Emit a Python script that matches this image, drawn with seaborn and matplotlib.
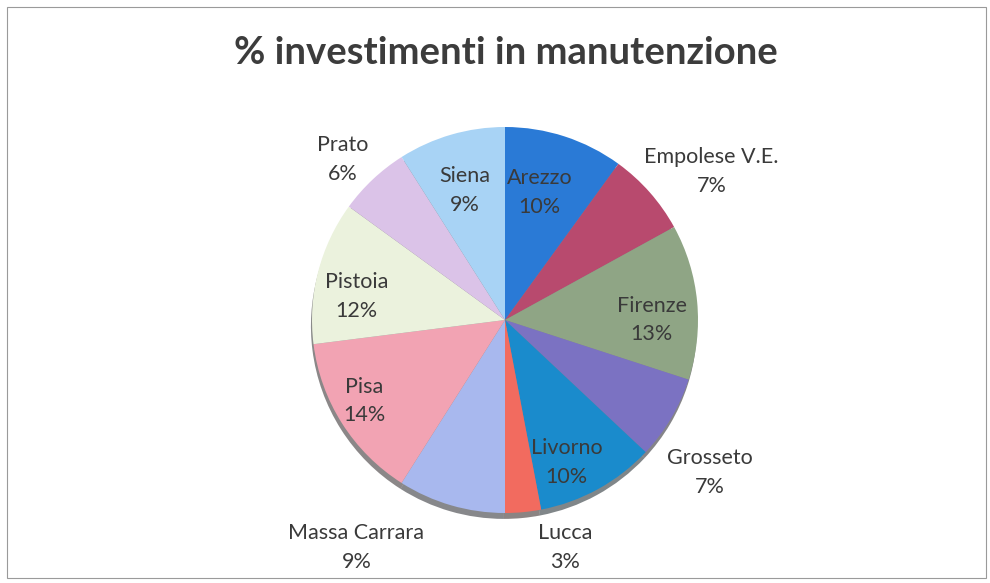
import seaborn as sns
import matplotlib.pyplot as plt
from matplotlib.patches import Rectangle

# data (clockwise from 12 o'clock)
provinces = ["Arezzo", "Empolese V.E.", "Firenze", "Grosseto", "Livorno", "Lucca",
             "Massa Carrara", "Pisa", "Pistoia", "Prato", "Siena"]
shares = [10, 7, 13, 7, 10, 3, 9, 14, 12, 6, 9]

colors = ["#2a7ad6", "#b84a6e", "#8fa585", "#7b72c2", "#1a8bcc", "#f26b5f",
          "#a8b8ee", "#f2a3b3", "#ebf2dd", "#dbc3e8", "#a8d3f5"]

# label anchors in pie units (radius = 1), as placed in the original
label_pos = [(0.18, 0.66), (1.07, 0.77), (0.76, 0.0), (1.06, -0.79), (0.32, -0.74),
             (0.31, -1.18), (-0.77, -1.18), (-0.73, -0.42), (-0.77, 0.12),
             (-0.84, 0.83), (-0.21, 0.67)]

sns.set_theme(style="white")
plt.rcParams["font.family"] = ["Lato", "DejaVu Sans"]

W, H = 990, 583
fig = plt.figure(figsize=(W / 100, H / 100), dpi=100)
fig.patch.set_facecolor("white")

R = 193
cx, cy = 505, 320
half = 250
ax = fig.add_axes([(cx - half) / W, (H - cy - half) / H, 2 * half / W, 2 * half / H])
lim = half / R
ax.pie(shares, colors=colors, startangle=90, counterclock=False,
       wedgeprops=dict(linewidth=0),
       shadow=dict(ox=-0.004, oy=-0.022, shade=0.9))
ax.set_xlim(-lim, lim)
ax.set_ylim(-lim, lim)
ax.set_aspect("equal")
ax.axis("off")

for name, val, (x, y) in zip(provinces, shares, label_pos):
    ax.text(x, y, f"{name}\n{val}%", ha="center", va="center", fontsize=15.5,
            color="#3a3a3a", linespacing=1.55)

fig.text(506 / W, 1 - 53 / H, "% investimenti in manutenzione", ha="center", va="center",
         fontsize=27.5, fontweight="bold", color="#3c3c3c")

fig.patches.append(Rectangle((7 / W, 5 / H), 979 / W, 571 / H, transform=fig.transFigure,
                             fill=False, edgecolor="#9a9a9a", linewidth=0.8))

fig.savefig("out.png", dpi=100)
